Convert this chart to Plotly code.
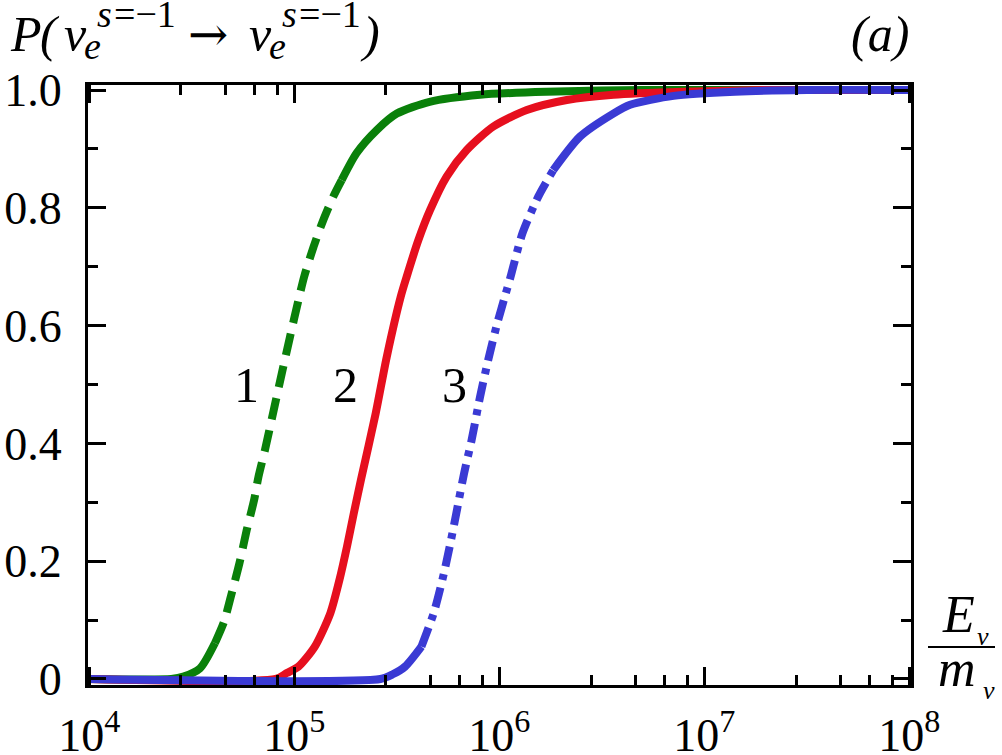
import plotly.graph_objects as go

# ---------------- data ----------------
# curve 1 (green, dashed)
g_logE = [4.0, 4.40, 4.459, 4.540, 4.613, 4.657, 4.695, 4.732, 4.768, 4.804,
          4.825, 4.857, 4.898, 4.939, 4.979, 5.020, 5.048, 5.094, 5.141, 5.190,
          5.231, 5.304, 5.402, 5.500, 5.66, 5.906, 6.23, 6.70, 8.0]
g_P = [0, 0, 0.004, 0.018, 0.061, 0.097, 0.146, 0.196, 0.253, 0.304,
       0.343, 0.389, 0.454, 0.519, 0.581, 0.643, 0.683, 0.734, 0.779, 0.819,
       0.847, 0.893, 0.932, 0.960, 0.980, 0.992, 0.997, 1.0, 1.0]
# curve 2 (red, solid)
r_logE = [4.0, 4.91, 4.963, 5.020, 5.100, 5.176, 5.220, 5.257, 5.290, 5.325,
          5.397, 5.451, 5.519, 5.548, 5.605, 5.662, 5.743, 5.841, 5.971, 6.134,
          6.329, 6.557, 6.90, 7.30, 8.0]
r_P = [0, 0, 0.010, 0.021, 0.055, 0.112, 0.168, 0.225, 0.281, 0.338,
       0.451, 0.547, 0.649, 0.683, 0.745, 0.796, 0.853, 0.898, 0.938, 0.966,
       0.983, 0.992, 0.997, 1.0, 1.0]
# curve 3 (blue, dash-dot)
b_logE = [4.0, 5.42, 5.48, 5.54, 5.62, 5.68, 5.722, 5.758, 5.79, 5.828,
          5.865, 5.906, 5.946, 5.990, 6.036, 6.055, 6.113, 6.19, 6.263, 6.394,
          6.556, 6.638, 6.85, 7.15, 7.5, 8.0]
b_P = [0, 0, 0.008, 0.021, 0.055, 0.112, 0.168, 0.225, 0.281, 0.349,
       0.406, 0.479, 0.542, 0.604, 0.660, 0.683, 0.757, 0.819, 0.864, 0.921,
       0.960, 0.975, 0.990, 0.997, 1.0, 1.0]

curve_labels = ["1", "2", "3"]
x_tick_vals = [1e4, 1e5, 1e6, 1e7, 1e8]
x_tick_text = ["10<sup>4</sup>", "10<sup>5</sup>", "10<sup>6</sup>", "10<sup>7</sup>", "10<sup>8</sup>"]
y_tick_vals = [0, 0.2, 0.4, 0.6, 0.8, 1.0]
y_tick_text = ["0", "0.2", "0.4", "0.6", "0.8", "1.0"]
x_minor_mult = [2.8, 4.6, 6.4, 8.3]
y_minor_vals = [0.1, 0.3, 0.5, 0.7, 0.9]

# ---------------- styling ----------------
FONT = "Liberation Serif, Times New Roman, serif"
GREEN = "#0a800a"
RED = "#e60f1e"
BLUE = "#3a3ad4"
LW = 8

W, H = 1002, 755
PL, PR, PT, PB = 88, 911, 85, 685  # plot area in pixels

fig = go.Figure()


def E(vals):
    return [10 ** v for v in vals]


def add_seg(xs, ys, color, dash, i0, i1):
    fig.add_trace(go.Scatter(
        x=E(xs[i0:i1]), y=ys[i0:i1], mode="lines",
        line=dict(color=color, width=LW, dash=dash, shape="spline", smoothing=0.7),
        hoverinfo="skip", showlegend=False))


# green: solid foot, dashed middle, solid top
add_seg(g_logE, g_P, GREEN, "solid", 0, 5)
add_seg(g_logE, g_P, GREEN, "22px,11px", 4, 21)
add_seg(g_logE, g_P, GREEN, "solid", 20, len(g_P))
# red: solid
add_seg(r_logE, r_P, RED, "solid", 0, len(r_P))
# blue: solid foot, dash-dot middle, solid top
add_seg(b_logE, b_P, BLUE, "solid", 0, 5)
add_seg(b_logE, b_P, BLUE, "20px,8px,6px,8px", 4, 19)
add_seg(b_logE, b_P, BLUE, "solid", 18, len(b_P))

minor_x = [m * 10 ** d for d in range(4, 8) for m in x_minor_mult]

axis_common = dict(
    showline=True, linecolor="black", linewidth=3, mirror="ticks",
    ticks="inside", ticklen=18, tickwidth=3, tickcolor="black",
    showgrid=False, zeroline=False, automargin=False,
    tickfont=dict(family=FONT, size=46, color="black"),
)

fig.update_xaxes(type="log", range=[3.9937, 8.008],
                 tickmode="array", tickvals=x_tick_vals, ticktext=x_tick_text,
                 minor=dict(tickvals=minor_x, ticks="inside", ticklen=10,
                            tickwidth=3, tickcolor="black", showgrid=False),
                 ticklabelstandoff=8, **axis_common)
fig.update_yaxes(range=[-0.0102, 1.0085],
                 tickmode="array", tickvals=y_tick_vals, ticktext=y_tick_text,
                 minor=dict(tickvals=y_minor_vals, ticks="inside", ticklen=10,
                            tickwidth=3, tickcolor="black", showgrid=False),
                 ticklabelstandoff=14, **axis_common)


def px2paper(cx, cy):
    return (cx - PL) / (PR - PL), (PB - cy) / (PB - PT)


def ann(text, cx, baseline, size, italic=True, family=FONT):
    cy = baseline - 0.3375 * size
    xp, yp = px2paper(cx, cy)
    t = f"<i>{text}</i>" if italic else text
    fig.add_annotation(text=t, x=xp, y=yp, xref="paper", yref="paper",
                       xanchor="center", yanchor="middle", showarrow=False,
                       font=dict(family=family, size=size, color="black"))


# title P(nu_e^{s=-1} -> nu_e^{s=-1})
ann("P", 26, 51, 50)
ann("(", 50, 51, 50)
ann("ν", 75, 51, 50)
ann("e", 92, 59, 38)
ann("s", 104, 27, 38)
ann("=−1", 145, 27, 38, italic=False)
ann("→", 208, 50, 48, italic=False, family="DejaVu Serif")
ann("ν", 260, 51, 50)
ann("e", 277, 59, 38)
ann("s", 289, 27, 38)
ann("=−1", 330, 27, 38, italic=False)
ann(")", 370, 51, 50)
# panel label
ann("(a)", 880, 51, 50)
# x-axis label as fraction E_nu / m_nu
ann("E", 958, 632, 52)
ann("ν", 983, 645, 26)
ann("m", 957, 686, 52)
ann("ν", 989, 699, 26)
fx0, fy = px2paper(928, 647)
fx1, _ = px2paper(995, 647)
fig.add_shape(type="line", xref="paper", yref="paper", x0=fx0, x1=fx1, y0=fy, y1=fy,
              line=dict(color="black", width=2))

# curve numbers (placed in data coordinates)
lab_x = [4.768, 5.252, 5.78]
lab_y = [0.499, 0.499, 0.499]
for t, lx, ly in zip(curve_labels, lab_x, lab_y):
    fig.add_annotation(text=t, x=lx, y=ly, xref="x", yref="y", showarrow=False,
                       xanchor="center", yanchor="middle",
                       font=dict(family=FONT, size=50, color="black"))

fig.update_layout(width=W, height=H,
                  margin=dict(l=PL, r=W - PR, t=PT, b=H - PB, pad=0),
                  paper_bgcolor="white", plot_bgcolor="white", showlegend=False,
                  font=dict(family=FONT))

fig.write_html("out.html")
